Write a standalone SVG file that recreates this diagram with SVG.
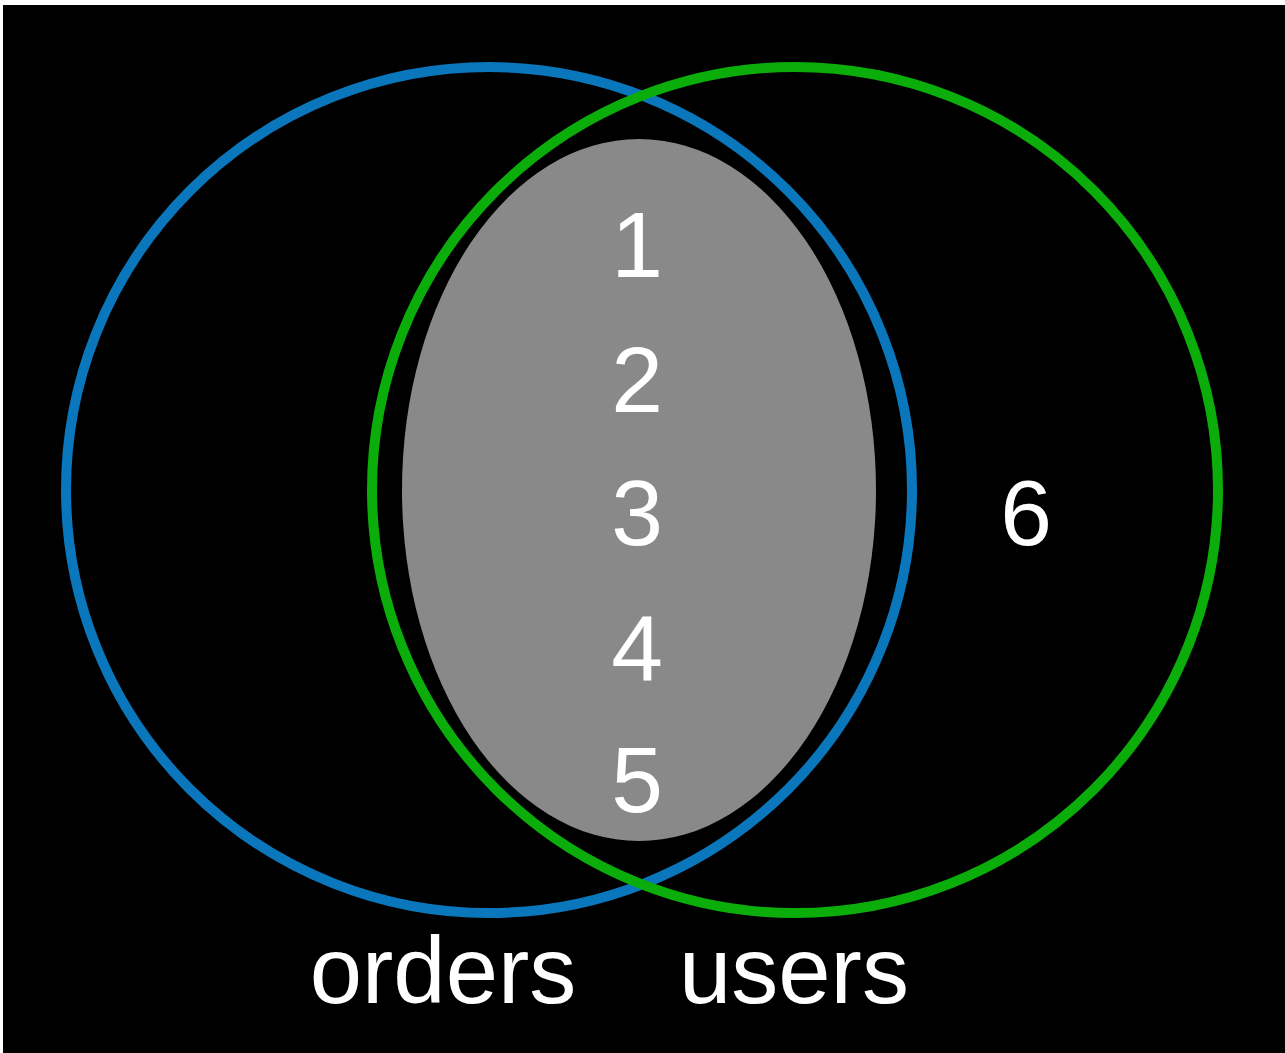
<svg xmlns="http://www.w3.org/2000/svg" width="1285" height="1053" viewBox="0 0 1285 1053">
<style>
.lbl{font-family:"Liberation Sans",Arial,sans-serif;fill:#ffffff;text-anchor:middle}
.num{font-size:93px}
.set{font-size:94px}
</style>
<rect x="0" y="0" width="1285" height="1053" fill="#ffffff"/>
<rect x="3" y="5" width="1282" height="1048" fill="#000000"/>
<g id="intersection">
<ellipse cx="639" cy="490" rx="237" ry="351" fill="#898989"/>
</g>
<g id="orders-circle">
<circle cx="489" cy="490" r="423" fill="none" stroke="#0a77bd" stroke-width="10"/>
</g>
<g id="users-circle">
<circle cx="795" cy="490" r="423" fill="none" stroke="#0aad0a" stroke-width="10"/>
</g>
<g id="numbers">
<text class="lbl num" x="637" y="277">1</text>
<text class="lbl num" x="637" y="412">2</text>
<text class="lbl num" x="637" y="545">3</text>
<text class="lbl num" x="637" y="680">4</text>
<text class="lbl num" x="637" y="812">5</text>
<text class="lbl num" x="1026" y="545">6</text>
</g>
<g id="labels">
<text class="lbl set" x="443" y="1003">orders</text>
<text class="lbl set" x="794" y="1003">users</text>
</g>
</svg>
